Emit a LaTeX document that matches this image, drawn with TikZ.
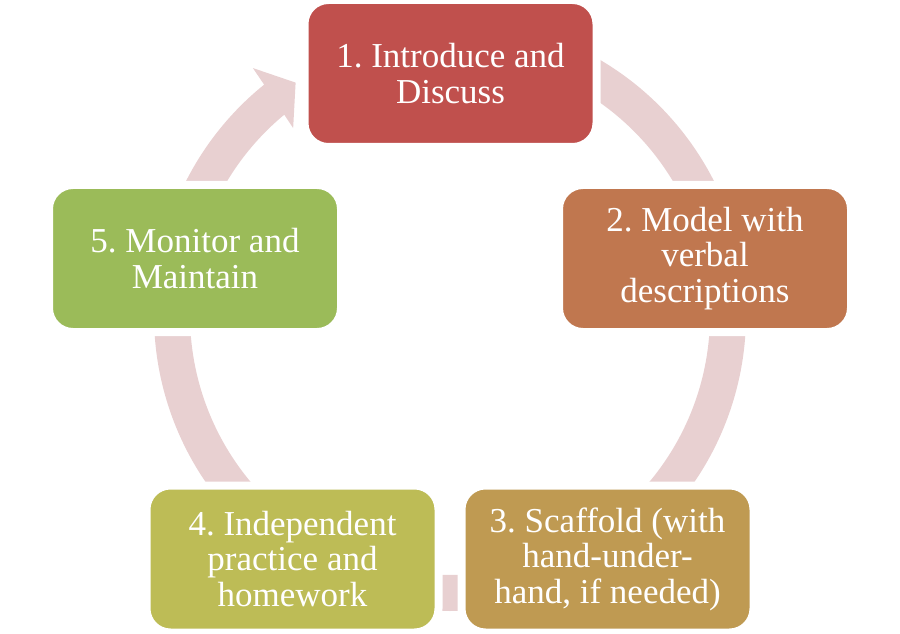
\documentclass[tikz,border=0pt]{standalone}
\usepackage{fontspec}
\setmainfont{Liberation Serif}
\usepackage{tikz}
\usetikzlibrary{calc}
\definecolor{stageone}{RGB}{192, 80, 77}
\definecolor{stagetwo}{RGB}{192, 119, 79}
\definecolor{stagethree}{RGB}{191, 154, 82}
\definecolor{stagefour}{RGB}{189, 188, 86}
\definecolor{stagefive}{RGB}{155, 187, 89}
\definecolor{ringpink}{RGB}{232, 208, 209}

\begin{document}
\frenchspacing
\begin{tikzpicture}[x=1pt, y=1pt,
        stage/.style={rounded corners=24pt, draw=white, line width=8pt, minimum width=292pt, minimum height=147pt, inner sep=0pt, text=white, align=center, font=\fontsize{35}{35.5}\selectfont},
        ring/.style={draw=ringpink, line width=36pt}]
        \useasboundingbox (0,0) rectangle (900,633);
        \coordinate (ctr) at (450,318);
        % Ring of arrows, ends hidden under the boxes
        \draw[ring] (ctr) ++(75:278) arc[start angle=75, end angle=20, radius=278];
        \draw[ring] (ctr) ++(5:278) arc[start angle=5, end angle=-55, radius=278];
        \draw[ring] (ctr) ++(-70:278) arc[start angle=-70, end angle=-110, radius=278];
        \draw[ring] (ctr) ++(-125:278) arc[start angle=-125, end angle=-195, radius=278];
        % Last arrow, head shown in front of stage 1
        \fill[ringpink] (ctr) ++(175:296) arc[start angle=175, end angle=128.9, radius=296]
            -- ($(ctr)+(128.6:316)$) -- ($(ctr)+(123.6:279)$) -- ($(ctr)+(130:244)$)
            -- ($(ctr)+(129.6:260)$) arc[start angle=129.6, end angle=175, radius=260] -- cycle;
        % Stages
        \node[stage, fill=stageone] (intro) at (450.5,559.5) {1. Introduce and\\Discuss};
        \node[stage, fill=stagetwo] (model) at (705,374.5) {2. Model with\\verbal\\descriptions};
        \node[stage, fill=stagethree] (scaffold) at (607.5,74) {3. Scaffold (with\\hand-under-\\hand, if needed)};
        \node[stage, fill=stagefour] (practice) at (292.5,74) {4. Independent\\practice and\\homework};
        \node[stage, fill=stagefive] (monitor) at (195,374.5) {5. Monitor and\\Maintain};
\end{tikzpicture}
\end{document}
